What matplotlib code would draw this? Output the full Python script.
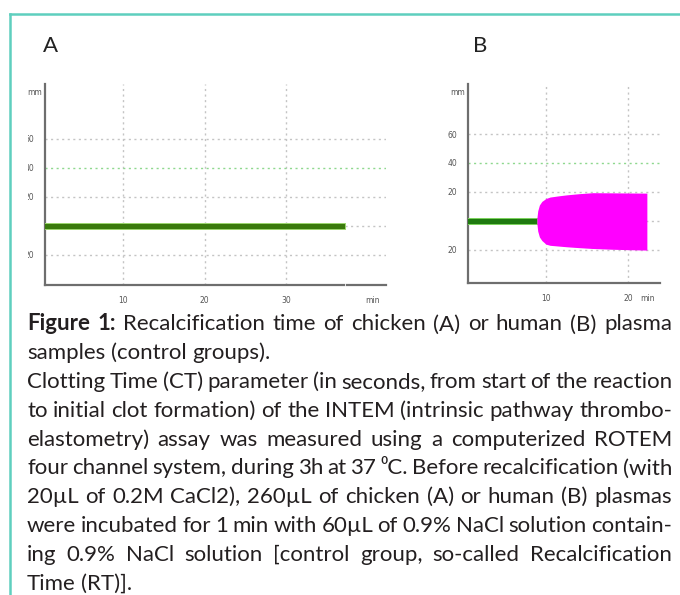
import matplotlib
matplotlib.use("Agg")
import matplotlib.pyplot as plt
from matplotlib.lines import Line2D
from matplotlib.transforms import Bbox, TransformedBbox

W, H = 680, 595

# ---- values ----
x_ticks_a = [10, 20, 30]
x_ticks_b = [10, 20]
y_grid = [60, 20, 0, -20]
y_threshold = 40
y_tick_pos = [60, 40, 20, -20]
y_tick_lab = ["60", "40", "20", "20"]

trace_end_a = 37.3          # chicken plasma: flat trace, no clot (min)
ct_b = 8.9                  # human plasma: clotting time (min)
trace_half = 2.2            # half thickness of the flat trace (mm)
clot_t     = [8.9, 9.0, 9.2, 9.5, 10.0, 10.5, 11.5, 12.5, 14.0, 15.7, 18.0, 20.0, 22.3]
clot_upper = [2, 7, 11, 13.5, 15.5, 16.5, 17.3, 18.0, 18.8, 19.5, 19.4, 19.3, 19.2]
clot_lower = [-2, -7, -11, -13.5, -16, -16.8, -17.3, -17.8, -18.4, -19.0, -19.5, -19.8, -20.1]

caption = [
    ([("Figure", "bold"), ("1:", "bold")] + [(w, "normal") for w in
      "Recalcification time of chicken (A) or human (B) plasma".split()], True),
    ([(w, "normal") for w in "samples (control groups).".split()], False),
    ([(w, "normal") for w in "Clotting Time (CT) parameter (in seconds, from start of the reaction".split()], True),
    ([(w, "normal") for w in "to initial clot formation) of the INTEM (intrinsic pathway thrombo-".split()], True),
    ([(w, "normal") for w in "elastometry) assay was measured using a computerized ROTEM".split()], True),
    ([(w, "normal") for w in "four channel system, during 3h at 37 \u2070C. Before recalcification (with".split()], True),
    ([(w, "normal") for w in "20\u00b5L of 0.2M CaCl2), 260\u00b5L of chicken (A) or human (B) plasmas".split()], True),
    ([(w, "normal") for w in "were incubated for 1 min with 60\u00b5L of 0.9% NaCl solution contain-".split()], True),
    ([(w, "normal") for w in "ing 0.9% NaCl solution [control group, so-called Recalcification".split()], True),
    ([(w, "normal") for w in "Time (RT)].".split()], False),
]

FAM = ["Lato", "DejaVu Sans"]
GRID = "#c4c4c4"
GREEN_GRID = "#8ed88e"
TRACE = "#3a7a0c"
SPINE = "#6e6e6e"

fig = plt.figure(figsize=(W / 100, H / 100), dpi=100)


def add_ax(l, t, r, b):
    return fig.add_axes([l / W, 1 - b / H, (r - l) / W, (b - t) / H])


def style(ax, xticks, xlim, ylim, min_x):
    ax.set_xlim(*xlim)
    ax.set_ylim(*ylim)
    for s in ["top", "right"]:
        ax.spines[s].set_visible(False)
    for s in ["left", "bottom"]:
        ax.spines[s].set_color(SPINE)
        ax.spines[s].set_linewidth(1.6)
    for x in xticks:
        ax.axvline(x, color=GRID, lw=1, ls=(0, (1.5, 2.5)), zorder=0)
    for y in y_grid:
        ax.axhline(y, color=GRID, lw=1, ls=(0, (1.5, 2.5)), zorder=0)
    ax.axhline(y_threshold, color=GREEN_GRID, lw=1, ls=(0, (1.5, 2.5)), zorder=0)
    ax.set_xticks(xticks + [min_x])
    ax.set_xticklabels([str(x) for x in xticks] + ["min"])
    ax.set_yticks(y_tick_pos)
    ax.set_yticklabels(y_tick_lab)
    ax.tick_params(length=0, labelsize=5.5, labelcolor="#555555")
    ax.tick_params(axis="x", pad=8)
    ax.tick_params(axis="y", pad=8)
    mm = ax.annotate("mm", xy=(0, 1), xycoords="axes fraction", xytext=(-2.5, -3),
                     textcoords="offset points", ha="right", va="top",
                     fontsize=5.5, color="#555555")
    return mm


# ---- panel A: chicken ----
axA = add_ax(45, 84, 386, 285)
mmA = style(axA, x_ticks_a, (0.4, 42.3), (-40.7, 97.9), 40.7)
axA.fill_between([0, trace_end_a], -trace_half, trace_half, color=TRACE,
                 edgecolor="#9bd66e", lw=0.7, zorder=3)
# labels of panel A are cut off by the frame of the original figure
clip = TransformedBbox(Bbox([[28 / W, 0], [1, 1]]), fig.transFigure)
for t in axA.get_yticklabels() + [mmA]:
    t.set_clip_box(clip)
    t.set_clip_on(True)
# small break in the time axis where the trace stops
axA.spines["bottom"].set_visible(False)
axA.plot([0.4, trace_end_a - 0.1], [-40.7, -40.7], color=SPINE, lw=1.6, clip_on=False)
axA.plot([trace_end_a + 0.2, 42.3], [-40.7, -40.7], color=SPINE, lw=1.6, clip_on=False)

# ---- panel B: human ----
axB = add_ax(468, 84, 660, 283)
style(axB, x_ticks_b, (0.5, 23.9), (-42.8, 94.5), 22.4)
axB.fill_between([0, ct_b], -trace_half, trace_half, color="#1f7a10",
                 edgecolor="#7cd35c", lw=0.7, zorder=3)
axB.fill_between(clot_t, clot_lower, clot_upper, color="#ff00ff", lw=0, zorder=4)

fig.text(43 / W, 1 - 52 / H, "A", fontsize=16, family=FAM, color="#222222", va="baseline")
fig.text(473 / W, 1 - 52 / H, "B", fontsize=16, family=FAM, color="#222222", va="baseline")

# ---- teal frame ----
teal = "#5ecfbe"
fig.add_artist(Line2D([10 / W, 1], [1 - 14 / H, 1 - 14 / H], color=teal, lw=1.8))
fig.add_artist(Line2D([10 / W, 10 / W], [0, 1 - 14 / H], color=teal, lw=1.8))

# ---- justified caption ----
FS = 16
renderer = fig.canvas.get_renderer()
x0, x1 = 27, 672
probe1 = fig.text(0, 0, "x x", fontsize=FS, family=FAM)
probe2 = fig.text(0, 0, "xx", fontsize=FS, family=FAM)
space = probe1.get_window_extent(renderer).width - probe2.get_window_extent(renderer).width
probe1.remove()
probe2.remove()

for i, (words, just) in enumerate(caption):
    yb = 330.5 + 28.8 * i
    arts = [fig.text(0, 1 - yb / H, w, fontsize=FS, fontweight=wt, family=FAM,
                     color="#231f20", va="baseline", ha="left") for w, wt in words]
    widths = [a.get_window_extent(renderer).width for a in arts]
    gap = (x1 - x0 - sum(widths)) / (len(arts) - 1) if just else space
    gap = max(gap, 0.6 * space)
    x = x0
    for a, w in zip(arts, widths):
        a.set_x(x / W)
        x += w + gap

fig.savefig("out.png", dpi=100)
